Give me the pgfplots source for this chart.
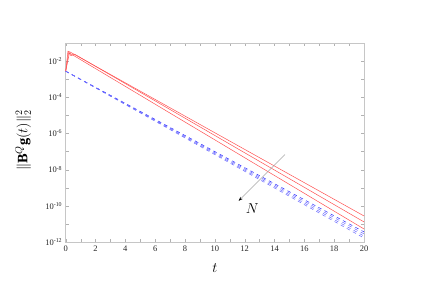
\documentclass[border=0pt]{standalone}
\usepackage{pgfplots}
\pgfplotsset{compat=1.18}
\usepackage{fontspec}
\setmainfont{Liberation Serif}
\usetikzlibrary{arrows.meta}
\definecolor{rline}{RGB}{255,80,80}
\definecolor{bline}{RGB}{40,40,255}
\begin{document}
\begin{tikzpicture}
\useasboundingbox (-65.7bp,-45bp) rectangle (363.3bp,242bp);
\begin{axis}[
  at={(0,0)}, anchor=south west,
  scale only axis, width=298.3bp, height=199bp,
  ymode=log,
  xmin=0, xmax=20, ymin=1e-12, ymax=1e-1,
  xtick={0,2,...,20},
  minor x tick num=1,
  ytick={1e-12,1e-10,1e-8,1e-6,1e-4,1e-2},
  yticklabels={10\textsuperscript{-12},10\textsuperscript{-10},10\textsuperscript{-8},10\textsuperscript{-6},10\textsuperscript{-4},10\textsuperscript{-2}},
  minor ytick={1e-11,1e-9,1e-7,1e-5,1e-3,1e-1},
  xticklabel={\pgfmathprintnumber[assume math mode=true]{\tick}},
  tick label style={font=\fontsize{8.5}{9}\selectfont, text=black!85},
  axis line style={gray!45},
  tick style={gray!60},
  major tick length=3bp, minor tick length=3bp,
  tick align=inside,
  xlabel={$t$}, ylabel={$\|\mathbf{B}^{Q}\mathbf{g}(t)\|_2^2$},
  xlabel style={at={(axis description cs:0.5,-0.13)}, anchor=center, font=\Large},
  ylabel style={at={(axis description cs:-0.143,0.51)}, anchor=center, font=\Large},
  clip=true,
]
% red solid lines
\addplot[rline, line width=0.5pt] coordinates {(0,2.754e-3) (0.15,3.548e-2) (0.3,3.162e-2) (20,2.754e-11)};
\addplot[rline, line width=0.5pt] coordinates {(0,2.754e-3) (0.2,3.162e-2) (0.35,1.995e-2) (0.6,2.399e-2) (20,1.288e-11)};
\addplot[rline, line width=0.5pt] coordinates {(0,2.754e-3) (0.25,2.818e-2) (0.45,2.239e-2) (20,5.248e-12)};
% blue dashed lines
\addplot[bline, line width=0.5pt, dash pattern=on 3.5bp off 3.5bp] coordinates {(0,2.754e-3) (20,3.631e-12)};
\addplot[bline!70, line width=0.5pt, dash pattern=on 3.5bp off 3.5bp] coordinates {(0,2.754e-3) (20,2.818e-12)};
\addplot[bline!70, line width=0.5pt, dash pattern=on 3.5bp off 3.5bp] coordinates {(0,2.754e-3) (20,2.138e-12)};
\addplot[bline!70, line width=0.5pt, dash pattern=on 3.5bp off 3.5bp] coordinates {(0,2.754e-3) (20,1.660e-12)};
% arrow annotation
\draw[gray!70, line width=0.5pt, -{Stealth[black, length=4bp, width=3bp]}] (axis cs:14.7,6.76e-8) -- (axis cs:11.6,1.905e-10);
\node[font=\Large] at (axis cs:12.5,6.76e-11) {$N$};
\end{axis}
\end{tikzpicture}
\end{document}
